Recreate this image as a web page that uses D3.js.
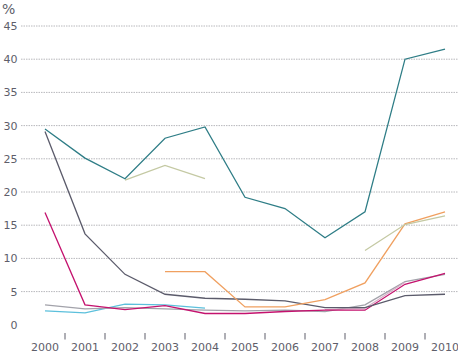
<!DOCTYPE html>
<html><head><meta charset="utf-8">
<script src="https://cdn.jsdelivr.net/npm/d3@7"></script>
<style>body{margin:0;background:#fff}svg{display:block}</style>
</head><body>
<svg id="c" width="458" height="357"></svg>
<script>
const years = ["2000","2001","2002","2003","2004","2005","2006","2007","2008","2009","2010"];
const yTicks = [0,5,10,15,20,25,30,35,40,45];
const unitLabel = "%";
const teal      = [29.5,25.1,22.0,28.1,29.8,19.2,17.5,13.1,17.0,40.0,41.5];
const darkGrey  = [29.1,13.7,7.6,4.6,4.0,3.85,3.6,2.6,2.6,4.4,4.6];
const sage      = [null,null,21.8,24.0,22.0,null,null,null,11.2,15.1,16.4];
const orange    = [null,null,null,8.0,8.0,2.7,2.7,3.8,6.3,15.2,17.0];
const magenta   = [16.9,3.0,2.3,2.9,1.7,1.7,2.0,2.2,2.2,6.1,7.75];
const cyan      = [2.1,1.8,3.1,3.0,2.5,null,null,null,null,null,null];
const lightGrey = [3.0,2.4,2.6,2.4,2.2,2.1,2.2,2.0,3.0,6.5,7.6];
const mauve     = [null,null,null,null,null,null,null,2.3,2.5,6.4,null];

const series = [
  {v: cyan, c: "#5cc0dc"},
  {v: lightGrey, c: "#a2a2aa"},
  {v: mauve, c: "#d8b0c8"},
  {v: magenta, c: "#c4126e"},
  {v: darkGrey, c: "#5b5b6b"},
  {v: orange, c: "#f0a060"},
  {v: sage, c: "#c4c9a3"},
  {v: teal, c: "#2e7d86"}
];

const svg = d3.select("#c");
const x = d3.scaleBand().domain(years).range([25, 465]).padding(0);
const y = d3.scaleLinear().domain([0,45]).range([324.8, 26]);
const textCol = "#5e5e6a";
const font = "DejaVu Sans, sans-serif";

// gridlines
svg.append("g").selectAll("line").data(yTicks.filter(t => t > 0)).join("line")
  .attr("x1", 21).attr("x2", 458)
  .attr("y1", d => y(d)).attr("y2", d => y(d))
  .attr("stroke", "#b8b8bc").attr("stroke-width", 1).attr("stroke-dasharray", "1.5,1");

// y labels
svg.append("g").selectAll("text").data(yTicks).join("text")
  .attr("x", 17.5).attr("y", d => y(d)).attr("dy", "0.36em")
  .attr("text-anchor", "end").attr("font-family", font).attr("font-size", 11)
  .attr("fill", textCol).text(d => d);

svg.append("text").attr("x", 2).attr("y", 14).attr("font-family", font)
  .attr("font-size", 14).attr("fill", textCol).text(unitLabel);

// x ticks at band boundaries
svg.append("g").selectAll("line").data(years.slice(1)).join("line")
  .attr("x1", d => x(d)).attr("x2", d => x(d)).attr("y1", 333).attr("y2", 339.5)
  .attr("stroke", "#5e5e6a").attr("stroke-width", 1);

svg.append("g").selectAll("text").data(years).join("text")
  .attr("x", d => x(d) + x.bandwidth()/2).attr("y", 351)
  .attr("text-anchor", "middle").attr("font-family", font).attr("font-size", 11)
  .attr("fill", textCol).text(d => d);

const line = d3.line()
  .defined(d => d.v != null)
  .x(d => x(d.yr) + x.bandwidth()/2)
  .y(d => y(d.v));

svg.append("g").selectAll("path").data(series).join("path")
  .attr("d", s => line(years.map((yr,i) => ({yr, v: s.v[i]}))))
  .attr("fill", "none").attr("stroke", s => s.c).attr("stroke-width", 1.3)
  .attr("stroke-linejoin", "miter");
</script>
</body></html>
